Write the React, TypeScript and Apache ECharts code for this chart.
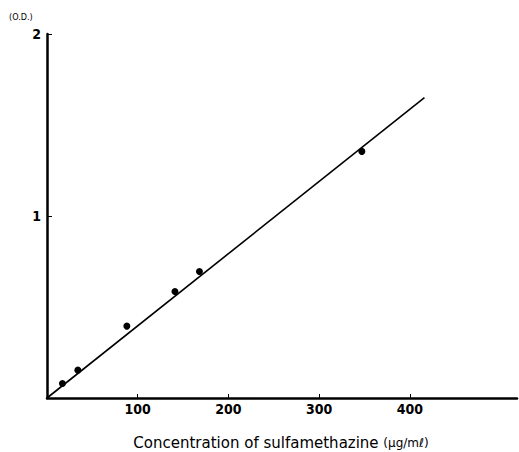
import React, { useEffect, useRef } from "react";
import * as echarts from "echarts";

const concentration = [17, 34, 88, 141, 168, 347];
const opticalDensity = [0.08, 0.153, 0.395, 0.585, 0.695, 1.355];
const fitLineX = [0, 416];
const fitLineY = [0, 1.65];
const xTickValues = [100, 200, 300, 400];
const yTickValues = [1, 2];
const xTitle = "Concentration of sulfamethazine";
const xUnit = "(μg/mℓ)";
const yUnit = "(O.D.)";

export default function App() {
  const ref = useRef<HTMLDivElement>(null);
  useEffect(() => {
    if (!ref.current) return;
    const chart = echarts.init(ref.current, null, { renderer: "svg" });
    const font = "'DejaVu Sans Condensed', 'DejaVu Sans', sans-serif";
    chart.setOption({
      animation: false,
      backgroundColor: "#fff",
      grid: { left: 47, top: 34, width: 470, height: 364, outerBoundsMode: "none" },
      xAxis: {
        type: "value",
        min: 0,
        max: 518,
        interval: 100,
        splitLine: { show: false },
        axisLine: { lineStyle: { color: "#000", width: 2.5 } },
        axisTick: { inside: true, length: 4, customValues: xTickValues, lineStyle: { color: "#000", width: 1 } },
        axisLabel: {
          customValues: xTickValues,
          color: "#000",
          fontWeight: "bold",
          fontSize: 14,
          fontFamily: font,
          margin: 4,
        },
      },
      yAxis: {
        type: "value",
        min: 0,
        max: 2,
        interval: 1,
        splitLine: { show: false },
        axisLine: { lineStyle: { color: "#000", width: 2.5 } },
        axisTick: { inside: true, length: 5, customValues: yTickValues, lineStyle: { color: "#000", width: 1 } },
        axisLabel: {
          customValues: yTickValues,
          color: "#000",
          fontWeight: "bold",
          fontSize: 14,
          fontFamily: font,
          margin: 6,
        },
      },
      graphic: [
        {
          type: "text",
          x: 9,
          y: 17,
          style: {
            text: yUnit,
            fill: "#000",
            fontSize: 9,
            fontFamily: font,
            textAlign: "left",
            textVerticalAlign: "middle",
          },
        },
        {
          type: "text",
          x: 281,
          y: 443,
          style: {
            text: xTitle + " {u|" + xUnit + "}",
            fill: "#000",
            fontSize: 15,
            fontFamily: "'DejaVu Sans', sans-serif",
            textAlign: "center",
            textVerticalAlign: "middle",
            rich: { u: { fontSize: 12, fontFamily: "'DejaVu Sans', sans-serif", fill: "#000" } },
          },
        },
      ],
      series: [
        {
          type: "line",
          data: fitLineX.map((x, i) => [x, fitLineY[i]]),
          showSymbol: false,
          lineStyle: { color: "#000", width: 1.6 },
          z: 2,
        },
        {
          type: "scatter",
          data: concentration.map((x, i) => [x, opticalDensity[i]]),
          symbolSize: 7,
          itemStyle: { color: "#000", opacity: 1 },
          z: 3,
        },
      ],
    });
    return () => chart.dispose();
  }, []);
  return (
    <div
      ref={ref}
      style={{ position: "fixed", left: 0, top: 0, width: 519, height: 452, background: "#fff" }}
    />
  );
}
